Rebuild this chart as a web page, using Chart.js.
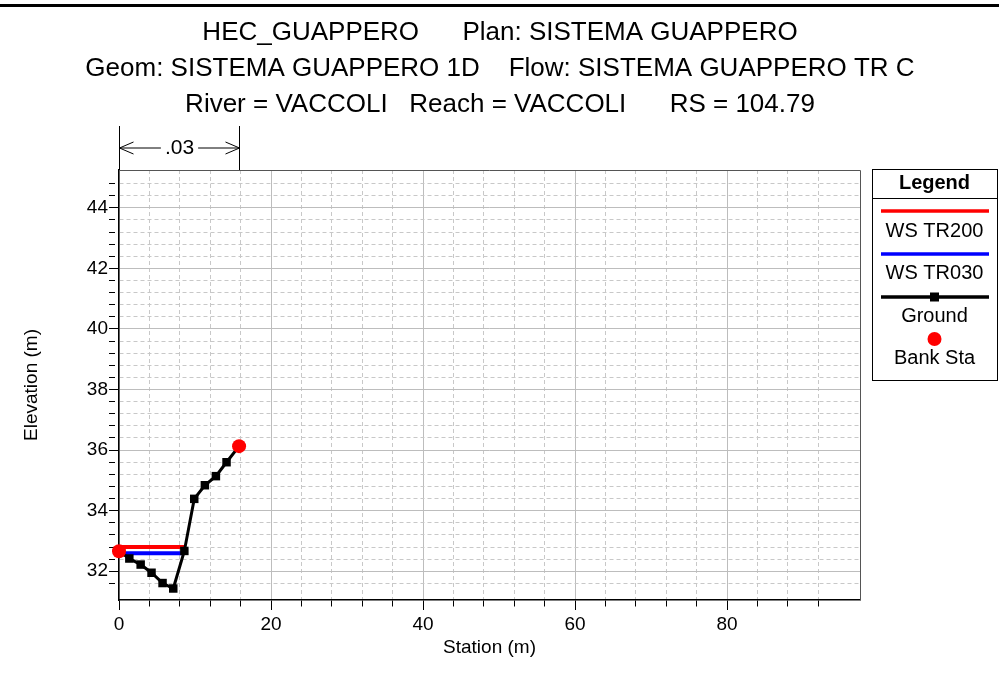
<!DOCTYPE html>
<html>
<head>
<meta charset="utf-8">
<script src="https://cdn.jsdelivr.net/npm/chart.js@4.4.1/dist/chart.umd.min.js"></script>
<style>
  html, body { margin: 0; padding: 0; background: #fff; }
</style>
</head>
<body>
<canvas id="myChart" width="999" height="679"></canvas>
<script>
// cross section data (station m, elevation m)
var groundStation = [0, 1.36, 2.85, 4.28, 5.73, 7.14, 8.6, 9.9, 11.3, 12.75, 14.15, 15.8];
var groundElev = [32.66, 32.42, 32.22, 31.95, 31.61, 31.43, 32.67, 34.39, 34.84, 35.14, 35.6, 36.13];
var wsTR200Station = [0, 8.75];
var wsTR200Elev = [32.8, 32.8];
var wsTR030Station = [0.2, 8.45];
var wsTR030Elev = [32.59, 32.59];
var bankStation = [0, 15.8];
var bankElev = [32.66, 36.13];
var xTickLabels = [0, 20, 40, 60, 80];
var yTickLabels = [32, 34, 36, 38, 40, 42, 44];
var manningN = ".03";
var titleLines = [
  "HEC_GUAPPERO      Plan: SISTEMA GUAPPERO",
  "Geom: SISTEMA GUAPPERO 1D    Flow: SISTEMA GUAPPERO TR C",
  "River = VACCOLI   Reach = VACCOLI      RS = 104.79"
];

var FONT = "'Liberation Sans', Arial, sans-serif";

function toPoints(xs, ys) {
  return xs.map(function (x, i) { return { x: x, y: ys[i] }; });
}
function isLabel(list, v) {
  return list.some(function (l) { return Math.abs(l - v) < 1e-6; });
}
function onStep(v, step) {
  return Math.abs(v / step - Math.round(v / step)) < 1e-6;
}

var decorations = {
  id: "decorations",
  afterDraw: function (chart) {
    var ctx = chart.ctx;
    var area = chart.chartArea;
    var xs = chart.scales.x;
    ctx.save();

    // heavy rule at the top
    ctx.fillStyle = "#000";
    ctx.fillRect(0, 4, 999, 3);

    // title block
    ctx.font = "26px " + FONT;
    ctx.textAlign = "center";
    ctx.textBaseline = "middle";
    titleLines.forEach(function (t, i) {
      ctx.fillText(t, 500, 33 + i * 36);
    });

    // frame top/right
    ctx.strokeStyle = "#555";
    ctx.lineWidth = 1;
    ctx.beginPath();
    ctx.moveTo(area.left, area.top + 0.5);
    ctx.lineTo(area.right + 0.5, area.top + 0.5);
    ctx.lineTo(area.right + 0.5, area.bottom);
    ctx.stroke();

    // manning n annotation between bank stations
    var xl = Math.round(xs.getPixelForValue(bankStation[0])) + 0.5;
    var xr = Math.round(xs.getPixelForValue(bankStation[1])) + 0.5;
    var ya = 148;
    ctx.strokeStyle = "#000";
    ctx.beginPath();
    ctx.moveTo(xl, 126); ctx.lineTo(xl, area.top);
    ctx.moveTo(xr, 126); ctx.lineTo(xr, area.top);
    ctx.stroke();
    ctx.font = "21px " + FONT;
    var tw = ctx.measureText(manningN).width;
    var xm = (xl + xr) / 2;
    ctx.beginPath();
    ctx.moveTo(xl, ya); ctx.lineTo(xm - tw / 2 - 4, ya);
    ctx.moveTo(xm + tw / 2 + 4, ya); ctx.lineTo(xr, ya);
    ctx.moveTo(xl + 14, ya - 6); ctx.lineTo(xl, ya); ctx.lineTo(xl + 14, ya + 6);
    ctx.moveTo(xr - 14, ya - 6); ctx.lineTo(xr, ya); ctx.lineTo(xr - 14, ya + 6);
    ctx.stroke();
    ctx.fillStyle = "#000";
    ctx.fillText(manningN, xm, ya);

    // axis titles
    ctx.font = "19px " + FONT;
    ctx.fillText("Station (m)", (area.left + area.right) / 2, 648);
    ctx.save();
    ctx.translate(32, (area.top + area.bottom) / 2);
    ctx.rotate(-Math.PI / 2);
    ctx.fillText("Elevation (m)", 0, 0);
    ctx.restore();

    // legend box
    var lx = 872, ly = 169, lw = 125, lh = 211;
    var cx = lx + lw / 2;
    ctx.strokeStyle = "#000";
    ctx.lineWidth = 1;
    ctx.strokeRect(lx + 0.5, ly + 0.5, lw, lh);
    ctx.beginPath();
    ctx.moveTo(lx, 198.5); ctx.lineTo(lx + lw, 198.5);
    ctx.stroke();
    ctx.font = "bold 20px " + FONT;
    ctx.fillText("Legend", cx, 183);
    ctx.font = "20px " + FONT;
    ctx.lineWidth = 3.5;
    ctx.strokeStyle = "#ff0000";
    ctx.beginPath(); ctx.moveTo(881, 211); ctx.lineTo(989, 211); ctx.stroke();
    ctx.fillText("WS TR200", cx, 231);
    ctx.strokeStyle = "#0000ff";
    ctx.beginPath(); ctx.moveTo(881, 254); ctx.lineTo(989, 254); ctx.stroke();
    ctx.fillText("WS TR030", cx, 273);
    ctx.strokeStyle = "#000";
    ctx.beginPath(); ctx.moveTo(881, 297); ctx.lineTo(989, 297); ctx.stroke();
    ctx.fillRect(cx - 4.5, 292.5, 9, 9);
    ctx.fillText("Ground", cx, 316);
    ctx.fillStyle = "#ff0000";
    ctx.beginPath(); ctx.arc(cx, 339, 7, 0, Math.PI * 2); ctx.fill();
    ctx.fillStyle = "#000";
    ctx.fillText("Bank Sta", cx, 358);

    ctx.restore();
  }
};

var ctx = document.getElementById("myChart").getContext("2d");
var myChart = new Chart(ctx, {
  type: "scatter",
  data: {
    datasets: [
      {
        label: "Bank Sta",
        data: toPoints(bankStation, bankElev),
        showLine: false,
        clip: false,
        pointStyle: "circle",
        pointRadius: 7,
        backgroundColor: "#ff0000",
        borderColor: "#ff0000",
        borderWidth: 0
      },
      {
        label: "Ground",
        data: toPoints(groundStation, groundElev),
        showLine: true,
        borderColor: "#000",
        borderWidth: 3,
        pointStyle: "rect",
        pointRadius: 6,
        pointBackgroundColor: "#000",
        pointBorderWidth: 0
      },
      {
        label: "WS TR200",
        data: toPoints(wsTR200Station, wsTR200Elev),
        showLine: true,
        borderColor: "#ff0000",
        borderWidth: 4,
        pointRadius: 0
      },
      {
        label: "WS TR030",
        data: toPoints(wsTR030Station, wsTR030Elev),
        showLine: true,
        borderColor: "#0000ff",
        borderWidth: 4,
        pointRadius: 0
      }
    ]
  },
  options: {
    responsive: false,
    animation: false,
    devicePixelRatio: 1,
    layout: { padding: { top: 170, right: 139, left: 0, bottom: 0 } },
    plugins: { legend: { display: false }, tooltip: { enabled: false } },
    scales: {
      x: {
        type: "linear",
        min: 0,
        max: 97.5,
        afterFit: function (s) { s.height = 79; },
        afterBuildTicks: function (s) {
          s.ticks = s.ticks.filter(function (t) { return onStep(t.value, 4); });
        },
        ticks: {
          stepSize: 4,
          autoSkip: false,
          maxRotation: 0,
          padding: 3,
          color: "#000",
          font: { family: FONT, size: 19 },
          callback: function (v) { return isLabel(xTickLabels, v) ? String(Math.round(v)) : ""; }
        },
        grid: {
          color: function (c) { return c.tick && isLabel(xTickLabels, c.tick.value) ? "#bdbdbd" : "#c8c8c8"; },
          lineWidth: 1,
          tickLength: 10,
          tickColor: "#000",
          tickBorderDash: function (c) { return c.tick && isLabel(xTickLabels, c.tick.value) ? [] : [6, 40]; }
        },
        border: {
          display: true,
          color: "#000",
          width: 1.5,
          dash: function (c) { return c.tick && isLabel(xTickLabels, c.tick.value) ? [] : [4, 3]; }
        }
      },
      y: {
        type: "linear",
        min: 31.05,
        max: 45.25,
        afterFit: function (s) { s.width = 119; },
        afterBuildTicks: function (s) {
          s.ticks = s.ticks.filter(function (t) { return onStep(t.value, 0.4); });
        },
        ticks: {
          stepSize: 0.4,
          autoSkip: false,
          padding: 1,
          color: "#000",
          font: { family: FONT, size: 19 },
          callback: function (v) { return isLabel(yTickLabels, v) ? String(Math.round(v)) : ""; }
        },
        grid: {
          color: function (c) { return c.tick && isLabel(yTickLabels, c.tick.value) ? "#bdbdbd" : "#c8c8c8"; },
          lineWidth: 1,
          tickLength: 10,
          tickColor: "#000",
          tickBorderDash: function (c) { return c.tick && isLabel(yTickLabels, c.tick.value) ? [] : [6, 40]; }
        },
        border: {
          display: true,
          color: "#000",
          width: 1.5,
          dash: function (c) { return c.tick && isLabel(yTickLabels, c.tick.value) ? [] : [4, 3]; }
        }
      }
    }
  },
  plugins: [decorations]
});
</script>
</body>
</html>
